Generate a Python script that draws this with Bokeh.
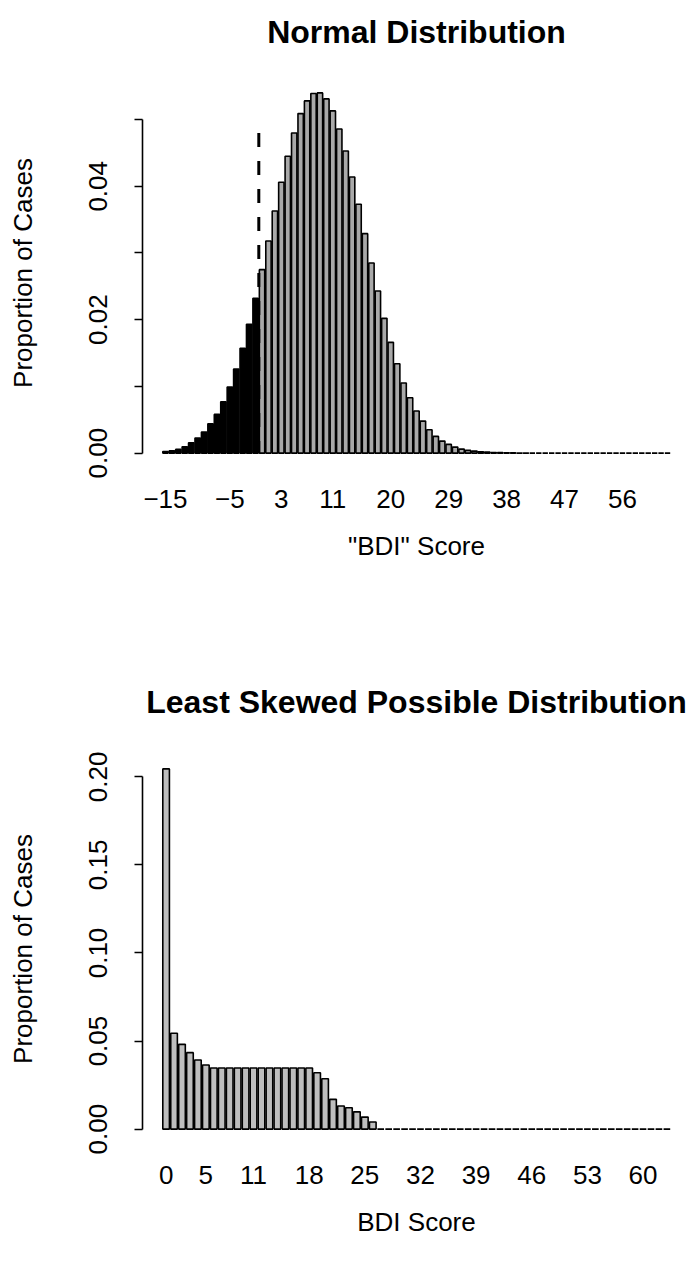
from bokeh.plotting import figure
from bokeh.models import Range1d, FixedTicker, PrintfTickFormatter, Title
from bokeh.layouts import column
from bokeh.embed import file_html
from bokeh.resources import INLINE

# ---------------- data ----------------
normal_scores = list(range(-15, 64))
normal_props = [
    0.00025, 0.00035, 0.00055, 0.00095, 0.00155, 0.00225, 0.00315, 0.0044,
    0.0058, 0.0077, 0.0099, 0.0126, 0.0157, 0.0193, 0.0232,
    0.0275, 0.0318, 0.0363, 0.0406, 0.0445, 0.0480, 0.0509, 0.0528, 0.0539, 0.0540,
    0.0531, 0.0513, 0.0486, 0.0453, 0.0414, 0.0373, 0.0329, 0.0285, 0.0243, 0.0202,
    0.0166, 0.0134, 0.0105, 0.0083, 0.0063, 0.0048, 0.0035, 0.0025, 0.0018, 0.0013,
    0.0009, 0.0006, 0.0004, 0.0003, 0.0002, 0.00015, 0.0001, 0.00007, 0.00005, 0.00003,
    0.00002, 0.00001,
    0.0, 0.0, 0.0, 0.0, 0.0, 0.0, 0.0, 0.0, 0.0, 0.0, 0.0,
    0.0, 0.0, 0.0, 0.0, 0.0, 0.0, 0.0, 0.0, 0.0, 0.0, 0.0,
]
normal_cut_score = 0          # scores below are drawn black
cutline_x = -0.5
cutline_top = 0.048
normal_tick_labels = [-15, -5, 3, 11, 20, 29, 38, 47, 56]
normal_y_major = [0.00, 0.02, 0.04]
normal_y_minor = [0.01, 0.03, 0.05]

skew_scores = list(range(0, 64))
skew_props = [
    0.2045, 0.0544, 0.0481, 0.0434, 0.0392, 0.0364,
    0.0347, 0.0347, 0.0347, 0.0347, 0.0347, 0.0347, 0.0347,
    0.0347, 0.0347, 0.0347, 0.0347, 0.0347, 0.0347,
    0.0320, 0.0286, 0.0169, 0.0131, 0.0121, 0.0098, 0.0068, 0.0040,
    0.0, 0.0, 0.0, 0.0, 0.0, 0.0, 0.0, 0.0, 0.0, 0.0,
    0.0, 0.0, 0.0, 0.0, 0.0, 0.0, 0.0, 0.0, 0.0, 0.0,
    0.0, 0.0, 0.0, 0.0, 0.0, 0.0, 0.0, 0.0, 0.0, 0.0,
    0.0, 0.0, 0.0, 0.0, 0.0, 0.0, 0.0,
]
skew_tick_labels = [0, 5, 11, 18, 25, 32, 39, 46, 53, 60]
skew_y_major = [0.00, 0.05, 0.10, 0.15, 0.20]

# ---------------- style ----------------
FONT = "Liberation Sans"
BASE = "26px"
TITLE = "32px"
GREY_TOP = "#A9A9A9"
GREY_BOTTOM = "#BEBEBE"
BAR_W = 1 / 1.2


def make_panel(scores, props, colors, title, xlabel, tick_labels, ymaj, ymin, ybounds,
               height, top_border, bottom_border, gap):
    left = scores[0] - BAR_W / 2
    right = scores[-1] + BAR_W / 2
    ext = 0.04 * (right - left)
    ymax = max(props)
    x0, x1 = left - ext, right + ext
    y0, y1 = -0.04 * ymax, 1.04 * ymax
    p = figure(width=691, height=height, output_backend="svg", toolbar_location=None,
               title=None,
               x_range=Range1d(x0, x1), y_range=Range1d(y0, y1),
               min_border_left=142, min_border_right=1,
               min_border_top=top_border, min_border_bottom=bottom_border)
    p.outline_line_color = None
    p.xgrid.visible = False
    p.ygrid.visible = False
    p.background_fill_color = "white"
    p.border_fill_color = "white"

    p.vbar(x=scores, top=props, bottom=0, width=BAR_W, fill_color=colors,
           line_color="black", line_width=1.6)

    # empty spacer between frame and title, then the title itself
    p.add_layout(Title(text=" ", text_font_size="1px", standoff=gap), "above")
    p.add_layout(Title(text=title, text_font=FONT, text_font_size=TITLE,
                       text_font_style="bold", text_color="black", align="center",
                       vertical_align="bottom", standoff=0), "above")

    # x axis: labels only
    xa = p.xaxis[0]
    xa.ticker = FixedTicker(ticks=tick_labels)
    xa.major_label_overrides = {t: (("\u2212" + str(-t)) if t < 0 else str(t)) for t in tick_labels}
    xa.axis_line_color = None
    xa.major_tick_line_color = None
    xa.minor_tick_line_color = None
    xa.major_tick_out = 0
    xa.major_tick_in = 0
    xa.major_label_standoff = 22
    xa.major_label_text_font = FONT
    xa.major_label_text_font_size = BASE
    xa.major_label_text_color = "black"
    xa.axis_label = xlabel
    xa.axis_label_text_font = FONT
    xa.axis_label_text_font_size = BASE
    xa.axis_label_text_font_style = "normal"
    xa.axis_label_text_color = "black"
    xa.axis_label_standoff = 20

    ya = p.yaxis[0]
    ya.ticker = FixedTicker(ticks=ymaj, minor_ticks=ymin)
    ya.formatter = PrintfTickFormatter(format="%.2f")
    ya.bounds = ybounds
    ya.axis_line_width = 1.6
    ya.major_tick_line_width = 1.6
    ya.minor_tick_line_width = 1.6
    ya.axis_line_color = "black"
    ya.major_tick_line_color = "black"
    ya.minor_tick_line_color = "black"
    ya.major_tick_out = 8
    ya.major_tick_in = 0
    ya.minor_tick_out = 8
    ya.minor_tick_in = 0
    ya.major_label_orientation = "parallel"
    ya.major_label_standoff = 27
    ya.major_label_text_font = FONT
    ya.major_label_text_font_size = BASE
    ya.major_label_text_color = "black"
    ya.axis_label = "Proportion of Cases"
    ya.axis_label_text_font = FONT
    ya.axis_label_text_font_size = BASE
    ya.axis_label_text_font_style = "normal"
    ya.axis_label_text_color = "black"
    ya.axis_label_standoff = 49
    return p


normal_colors = ["black" if s < normal_cut_score else GREY_TOP for s in normal_scores]
p1 = make_panel(normal_scores, normal_props, normal_colors, "Normal Distribution",
                "\"BDI\" Score", normal_tick_labels, normal_y_major, normal_y_minor,
                (0, 0.05), 676, 78, 209, 26)
p1.segment(x0=[cutline_x], y0=[cutline_top], x1=[cutline_x], y1=[0],
           line_color="black", line_width=3, line_dash="14 14")

skew_colors = [GREY_BOTTOM for s in skew_scores]
p2 = make_panel(skew_scores, skew_props, skew_colors, "Least Skewed Possible Distribution",
                "BDI Score", skew_tick_labels, skew_y_major, [],
                (0, 0.20), 588, 78, 121, 32)

layout = column(p1, p2, spacing=0)
open("out.html", "w").write(file_html(layout, INLINE))
